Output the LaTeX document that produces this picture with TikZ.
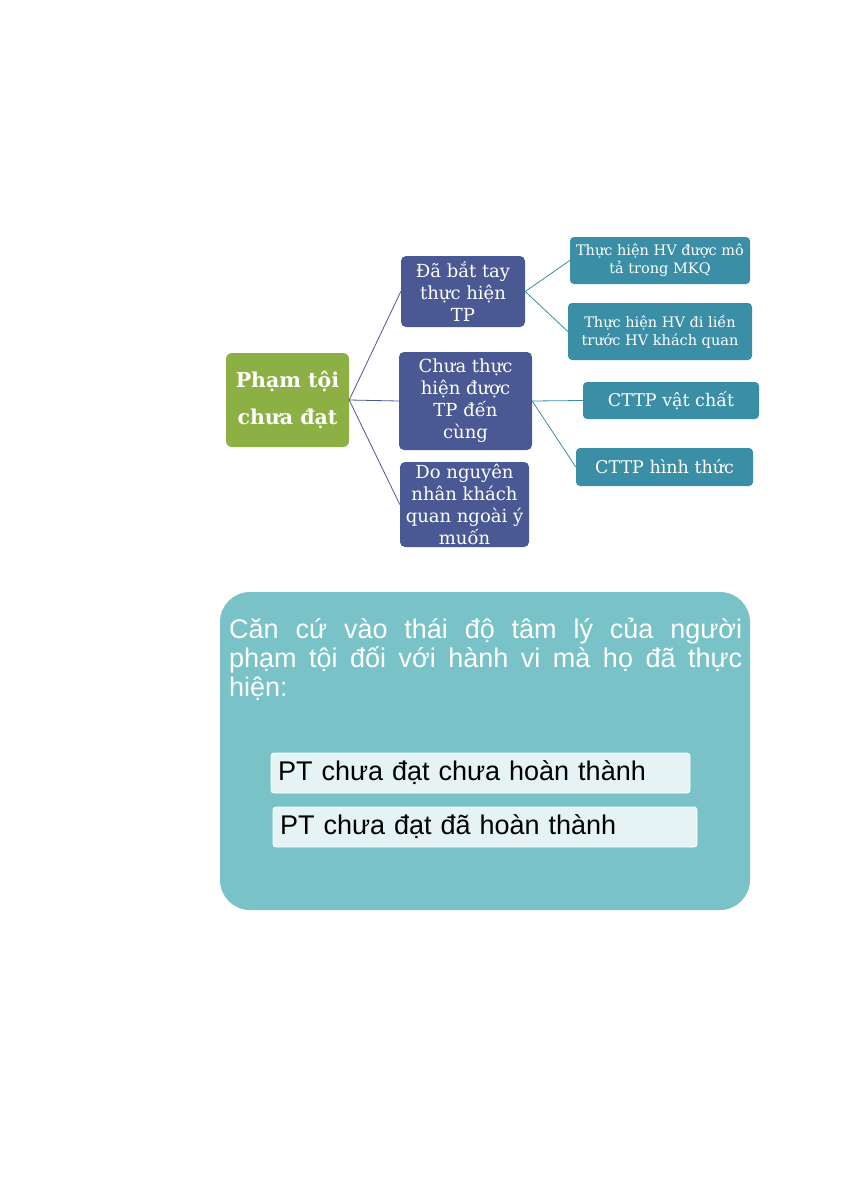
\documentclass[tikz,border=0pt]{standalone}
\usepackage{fontspec}
\setmainfont{DejaVu Serif}
\setsansfont{Liberation Sans}
\usetikzlibrary{positioning}
\definecolor{rootgreen}{HTML}{8CB043}
\definecolor{midblue}{HTML}{4A5993}
\definecolor{leafteal}{HTML}{3A8EA6}
\definecolor{panelteal}{HTML}{79C3C8}
\definecolor{itembg}{HTML}{E6F3F4}

\begin{document}
\begin{tikzpicture}[x=1pt,y=-1pt,
  rootbox/.style={fill=rootgreen,text=white,rounded corners=6pt,inner sep=0pt,align=center,
    font=\fontsize{20.5}{37}\selectfont\bfseries},
  midbox/.style={fill=midblue,text=white,rounded corners=5pt,inner sep=0pt,align=center,
    font=\fontsize{18}{22}\selectfont},
  leafbox/.style={fill=leafteal,text=white,rounded corners=4pt,inner sep=0pt,align=center,
    font=\fontsize{14.5}{18}\selectfont},
  tagbox/.style={fill=leafteal,text=white,rounded corners=4pt,inner sep=0pt,align=center,
    font=\fontsize{17.5}{20}\selectfont},
  itembox/.style={fill=itembg,draw=white,line width=0.8pt,rounded corners=3pt,inner sep=0pt,
    text=black,font=\sffamily\fontsize{27}{30}\selectfont},
  link/.style={midblue,line width=0.8pt},
  leaflink/.style={leafteal,line width=0.8pt}]
  % page
  \useasboundingbox (0,0) rectangle (841,1191);
  \fill[white] (0,0) rectangle (841,1191);

  % so do
  \node[rootbox,minimum width=123pt,minimum height=94pt] (root) at (287.5,400) {Phạm tội\\chưa đạt};

  \node[midbox,minimum width=124pt,minimum height=71pt] (batay) at (463,291.5) {Đã bắt tay\\thực hiện\\TP};
  \node[midbox,minimum width=133pt,minimum height=98pt] (dencung) at (465.5,401) {Chưa thực\\hiện được\\TP đến\\cùng};
  \node[midbox,minimum width=129pt,minimum height=85pt] (nguyennhan) at (464.5,504.5) {Do nguyên\\nhân khách\\quan ngoài ý\\muốn};

  \node[leafbox,minimum width=180pt,minimum height=47pt] (mota) at (660,260.5) {Thực hiện HV được mô\\tả trong MKQ};
  \node[leafbox,minimum width=184pt,minimum height=57pt] (lienTruoc) at (660,331.5) {Thực hiện HV đi liền\\trước HV khách quan};
  \node[tagbox,minimum width=176pt,minimum height=37pt] (vatchat) at (671,400.5) {CTTP vật chất};
  \node[tagbox,minimum width=177pt,minimum height=38pt] (hinhthuc) at (664.5,467) {CTTP hình thức};

  \draw[link] (root.east) -- (batay.west);
  \draw[link] (root.east) -- (dencung.west);
  \draw[link] (root.east) -- (nguyennhan.west);
  \draw[leaflink] (batay.east) -- (mota.west);
  \draw[leaflink] (batay.east) -- (lienTruoc.west);
  \draw[leaflink] (dencung.east) -- (vatchat.west);
  \draw[leaflink] (dencung.east) -- (hinhthuc.west);

  % khung phia duoi
  \node[fill=panelteal,rounded corners=30pt,minimum width=530pt,minimum height=318pt,inner sep=0pt] (panel) at (485,751) {};
  \node[anchor=north west,inner sep=0pt,text width=513pt,align=justify,text=white,
    font=\sffamily\fontsize{27}{29}\selectfont] (thaido) at (229,618)
    {Căn cứ vào thái độ tâm lý của người\linebreak phạm tội đối với hành vi mà họ đã thực\linebreak hiện:};

  \node[itembox,minimum width=419pt,minimum height=40pt,text width=405pt,align=left] (chuaht) at (480.5,773) {PT chưa đạt chưa hoàn thành};
  \node[itembox,minimum width=424pt,minimum height=40pt,text width=410pt,align=left] (daht) at (485,827) {PT chưa đạt đã hoàn thành};
\end{tikzpicture}
\end{document}
